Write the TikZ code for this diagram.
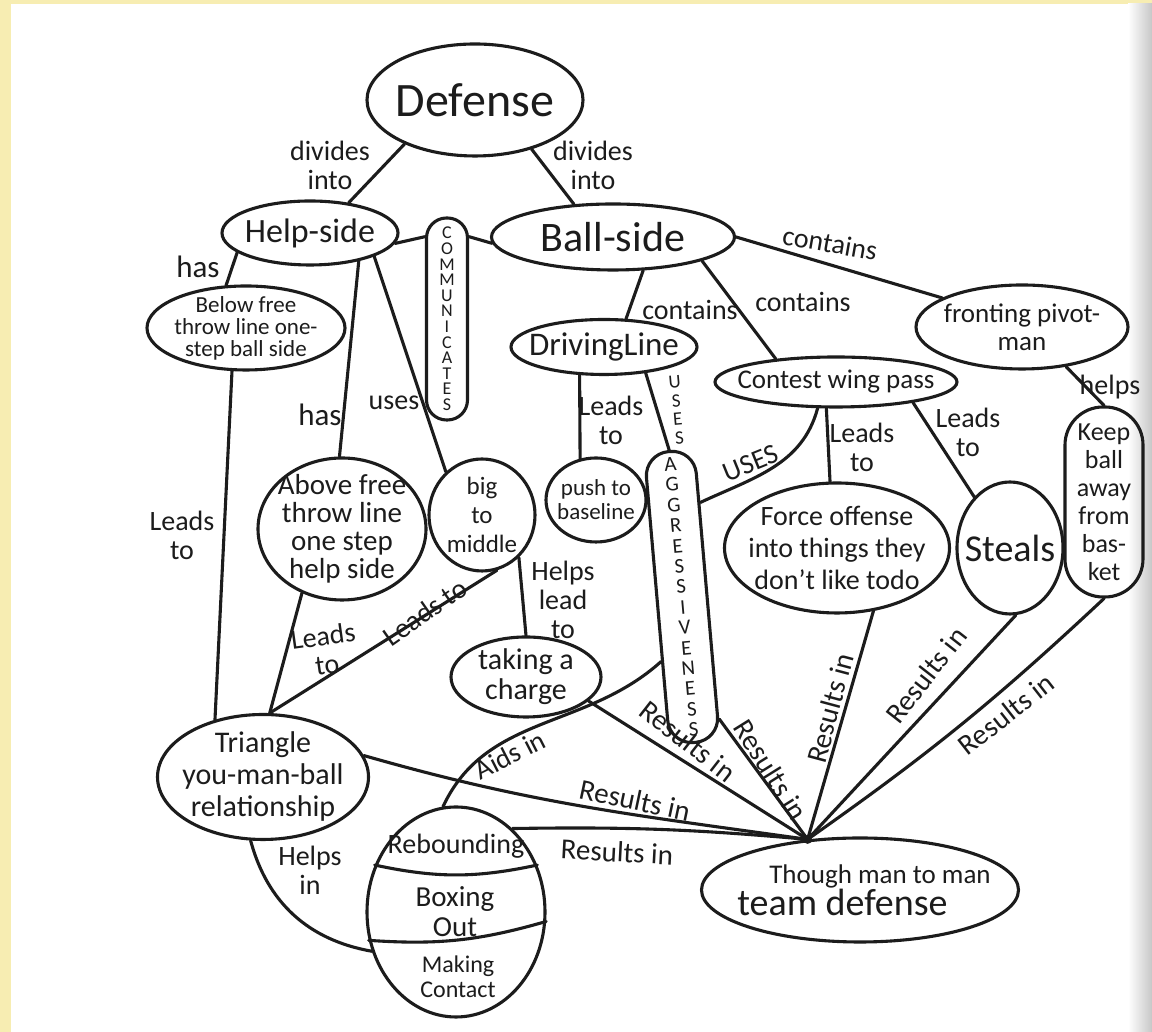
\documentclass[tikz,border=0pt]{standalone}
\usepackage{fontspec}
\setmainfont{Carlito}
\usepackage{tikz}
\usetikzlibrary{shapes,arrows.meta,positioning,calc,shapes.geometric}
\definecolor{pageyellow}{RGB}{247,237,178}
\definecolor{ink}{RGB}{28,28,28}
\newcommand{\fsz}[2]{\fontsize{#1}{#2}\selectfont}

\begin{document}
\begin{tikzpicture}[x=1pt, y=1pt,
  concept/.style={ellipse, draw=ink, line width=3.1pt, text=ink,
                  align=center, inner sep=-16pt},
  pill/.style={rectangle, draw=ink, line width=3.1pt, text=ink,
               align=center, inner sep=0pt},
  lbl/.style={text=ink, align=center, inner sep=0pt, font=\fsz{28}{29}},
  res/.style={lbl, font=\fsz{29}{29}},
  link/.style={draw=ink, line width=3.1pt, line cap=round}]
  \useasboundingbox (0,0) rectangle (1152,1032);
  % page
  \fill[pageyellow] (0,0) rectangle (1152,1032);
  \fill[white] (11,0) rectangle (1152,1028);
  \shade[left color=white, right color=black!22] (1128,0) rectangle (1152,1028);

  % top level
  \node[concept, minimum width=216pt, minimum height=112pt, font=\fsz{48}{48}]
    (defense) at (475,932) {Defense};
  \node[concept, minimum width=176pt, minimum height=64pt, font=\fsz{34}{34}]
    (helpside) at (310,799) {Help-side};
  \node[concept, minimum width=243pt, minimum height=66pt, font=\fsz{42}{42}]
    (ballside) at (613,795) {Ball-side};
  \node[pill, rounded corners=20pt, minimum width=41pt, minimum height=202pt,
        font=\fsz{18}{15.6}]
    (comm) at (447,713) {C\\O\\M\\M\\U\\N\\I\\C\\A\\T\\E\\S};

  % help side
  \node[concept, minimum width=198pt, minimum height=84pt, font=\fsz{23}{22}]
    (below) at (246,704) {Below free\\throw line one-\\step ball side};
  \node[concept, minimum width=168pt, minimum height=142pt, font=\fsz{29}{28}]
    (above) at (342,503) {Above free\\throw line\\one step\\help side};
  \node[concept, minimum width=106pt, minimum height=112pt, font=\fsz{25}{29}]
    (bigmid) at (482,517) {big\\to\\middle};
  \node[concept, minimum width=150pt, minimum height=80pt, font=\fsz{30}{30}]
    (charge) at (526,355) {taking a\\charge};
  \node[concept, minimum width=211pt, minimum height=125pt, font=\fsz{30}{32}]
    (triangle) at (263,255) {Triangle\\you-man-ball\\relationship};

  % ball side
  \node[concept, minimum width=186pt, minimum height=55pt, font=\fsz{33}{33}]
    (drive) at (604,685) {DrivingLine};
  \node[concept, minimum width=100pt, minimum height=84pt, font=\fsz{23}{24}]
    (push) at (596,532) {push to\\baseline};
  \node[pill, rounded corners=24pt, minimum width=50pt, minimum height=292pt,
        rotate=5, font=\fsz{21}{20.5}]
    (aggr) at (682,435) {A\\G\\G\\R\\E\\S\\S\\I\\V\\E\\N\\E\\S\\S};
  \node[concept, minimum width=242pt, minimum height=50pt, inner xsep=-30pt,
        font=\fsz{27}{27}]
    (contest) at (836,650) {Contest wing pass};
  \node[concept, minimum width=225pt, minimum height=130pt, inner xsep=-22pt,
        font=\fsz{28}{32}]
    (force) at (837,484) {Force offense\\into things they\\don’t like todo};
  \node[concept, minimum width=106pt, minimum height=132pt, font=\fsz{38}{38}]
    (steals) at (1010,484) {Steals};
  \node[concept, minimum width=212pt, minimum height=84pt, font=\fsz{27}{28}]
    (fronting) at (1022,705) {fronting pivot-\\man};
  \node[pill, rounded corners=38pt, minimum width=78pt, minimum height=190pt,
        font=\fsz{26}{28}]
    (keepball) at (1104,530) {Keep\\ball\\away\\from\\bas-\\ket};

  % rebounding, split in three
  \node[concept, minimum width=178pt, minimum height=210pt] (rebound) at (456,120) {};
  \draw[link] (rebound.150) to[bend right=12] (rebound.30);
  \draw[link] (rebound.198) to[bend right=10] (rebound.354);
  \node[text=ink, font=\fsz{28}{28}] (rbtitle) at (456,186) {Rebounding};
  \node[text=ink, align=center, font=\fsz{29}{30}] (boxing) at (455,120) {Boxing\\Out};
  \node[text=ink, align=center, font=\fsz{24}{25}] (making) at (458,55) {Making\\Contact};

  % goal
  \node[concept, minimum width=317pt, minimum height=104pt, inner xsep=-34pt,
        align=left]
    (tough) at (860,142)
    {{\fsz{27}{32}\hspace*{40pt}Though man to man}\\{\fsz{38}{38}\hspace*{8pt}team defense}};
  \coordinate (hub) at (tough.136);

  % links from the top
  \draw[link] (defense.212) -- (helpside.38);
  \draw[link] (defense.319) -- (ballside.140);
  \draw[link] (helpside.-7) -- (comm.105);
  \draw[link] (comm.75) -- (ballside.183);
  \draw[link] (helpside.195) -- (below.115);
  \draw[link] (helpside.330) -- (above.92);
  \draw[link] (helpside.340) -- (bigmid.130);
  \draw[link] (below.252) -- (triangle.130);
  \draw[link] (above.238) -- (triangle.84);
  \draw[link] (bigmid.285) -- (triangle.84);
  \draw[link] (bigmid.311) -- (charge.north);
  \draw[link] (ballside.312) -- (drive.52);
  \draw[link] (ballside.345) -- (contest.159);
  \draw[link] (ballside.east) -- (fronting.160);
  \draw[link] (drive.229) -- (push.111);
  \draw[link] (drive.328) -- (aggr.north);
  \draw[link] (contest.235) to[out=-105, in=25] (aggr.74);
  \draw[link] (contest.250) -- (force.96);
  \draw[link] (contest.345) -- (steals.125);
  \draw[link] (fronting.318) -- (keepball.north);
  \draw[link] (aggr.247) to[out=222, in=65] (rebound.97);
  \draw[link] (triangle.259) to[out=-75, in=170] (rebound.205);

  % everything results in the goal
  \draw[link] (charge.339) -- (hub);
  \draw[link] (aggr.-78) -- (hub);
  \draw[link] (triangle.12) to[out=-16, in=172] (hub);
  \draw[link] (rebound.56) to[bend left=3] (hub);
  \draw[link] (force.300) -- (hub);
  \draw[link] (steals.275) -- (hub);
  \draw[link] (keepball.south) to[bend left=4] (hub);
  \fill[ink] (hub) circle (4.5pt);

  % link labels
  \node[lbl] (l-div1) at (330,867) {divides\\into};
  \node[lbl] (l-div2) at (593,867) {divides\\into};
  \node[lbl, font=\fsz{31}{31}] (l-has1) at (198,765) {has};
  \node[lbl, rotate=-10] (l-cont1) at (830,789) {contains};
  \node[lbl] (l-cont2) at (690,722) {contains};
  \node[lbl] (l-cont3) at (803,730) {contains};
  \node[lbl, font=\fsz{31}{31}] (l-has2) at (320,617) {has};
  \node[lbl] (l-uses1) at (394,629) {uses};
  \node[lbl] (l-lead1) at (611,612) {Leads\\to};
  \node[lbl, rotate=5, font=\fsz{19}{18.5}] (l-uses2) at (677,622) {U\\S\\E\\S};
  \node[lbl, rotate=22] (l-uses3) at (751,569) {USES};
  \node[lbl] (l-lead2) at (862,585) {Leads\\to};
  \node[lbl] (l-lead3) at (968,600) {Leads\\to};
  \node[lbl] (l-helps) at (1110,645) {helps};
  \node[lbl] (l-lead4) at (182,497) {Leads\\to};
  \node[lbl, rotate=8] (l-lead5) at (325,382) {Leads\\to};
  \node[lbl, rotate=35] (l-lead6) at (425,420) {Leads to};
  \node[lbl] (l-hlead) at (563,432) {Helps\\lead\\to};
  \node[lbl, rotate=27] (l-aids) at (510,277) {Aids in};
  \node[res, rotate=-38] (l-res1) at (688,291) {Results in};
  \node[res, rotate=-58] (l-res2) at (771,262) {Results in};
  \node[res, rotate=-12] (l-res3) at (635,232) {Results in};
  \node[res, rotate=-3] (l-res4) at (617,180) {Results in};
  \node[res, rotate=75] (l-res5) at (830,324) {Results in};
  \node[res, rotate=52] (l-res6) at (926,357) {Results in};
  \node[res, rotate=38] (l-res7) at (1006,318) {Results in};
  \node[lbl] (l-helpsin) at (310,162) {Helps\\in};
\end{tikzpicture}
\end{document}
